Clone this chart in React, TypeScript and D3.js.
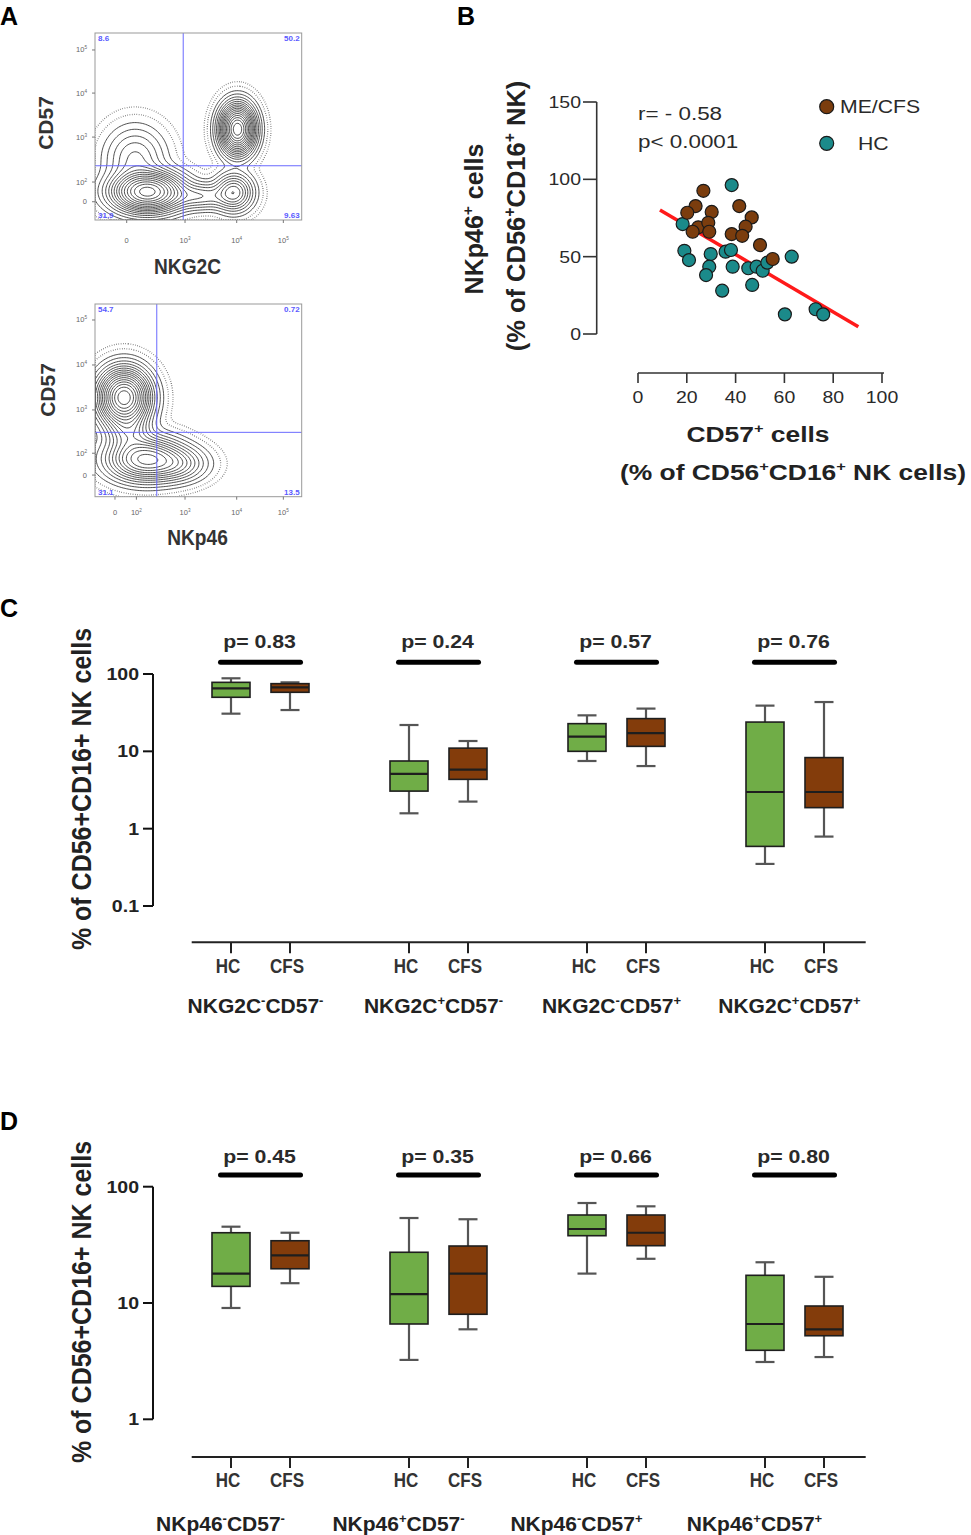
import { useRef, useEffect } from "react";
import * as d3 from "d3";

type Part = [string, boolean]; // text, superscript
type Blob = { cx: number; cy: number; sx: number; sy: number; w: number };
type Tick = { pos: number; label: Part[] };

// ---------- Panel A: flow cytometry contour plots (channel units 0-1024) ----------
const nkg2cBlobs: Blob[] = [
  { cx: 256, cy: 150, sx: 92, sy: 58, w: 1.0 },
  { cx: 195, cy: 330, sx: 80, sy: 95, w: 0.13 },
  { cx: 702, cy: 493, sx: 45, sy: 71, w: 1.2 },
  { cx: 684, cy: 148, sx: 50, sy: 55, w: 0.3 },
  { cx: 520, cy: 126, sx: 90, sy: 40, w: 0.15 },
];
const nkp46Blobs: Blob[] = [
  { cx: 140, cy: 523, sx: 66, sy: 78, w: 1.0 },
  { cx: 245, cy: 195, sx: 99, sy: 61, w: 0.5 },
  { cx: 400, cy: 170, sx: 80, sy: 50, w: 0.15 },
  { cx: 165, cy: 340, sx: 60, sy: 60, w: 0.16 },
];
const tenTo = (e: string): Part[] => [["10", false], [e, true]];
const nkg2cXTicks: Tick[] = [
  { pos: 157, label: [["0", false]] },
  { pos: 446, label: tenTo("3") },
  { pos: 702, label: tenTo("4") },
  { pos: 933, label: tenTo("5") },
];
const nkg2cYTicks: Tick[] = [
  { pos: 100, label: [["0", false]] },
  { pos: 208, label: tenTo("2") },
  { pos: 454, label: tenTo("3") },
  { pos: 695, label: tenTo("4") },
  { pos: 931, label: tenTo("5") },
];
const nkp46XTicks: Tick[] = [
  { pos: 99, label: [["0", false]] },
  { pos: 205, label: tenTo("2") },
  { pos: 446, label: tenTo("3") },
  { pos: 702, label: tenTo("4") },
  { pos: 933, label: tenTo("5") },
];
const nkp46YTicks: Tick[] = [
  { pos: 115, label: [["0", false]] },
  { pos: 231, label: tenTo("2") },
  { pos: 461, label: tenTo("3") },
  { pos: 700, label: tenTo("4") },
  { pos: 939, label: tenTo("5") },
];
const nkg2cQuad = ["8.6", "50.2", "31.9", "9.63"];
const nkp46Quad = ["54.7", "0.72", "31.1", "13.5"];
const contourLevels = [0.012, 0.025, 0.045, 0.07, 0.1, 0.135, 0.175, 0.22, 0.27, 0.33, 0.4, 0.48, 0.57, 0.67, 0.78, 0.9];
const haloLevels = [0.0012, 0.004];

// ---------- Panel B: scatter ----------
const meCfsPoints: [number, number][] = [
  [26.8, 92.6], [23.6, 82.7], [20.2, 78.4], [30.2, 78.9], [41.5, 82.7],
  [46.6, 75.4], [24.7, 69.0], [28.8, 71.9], [22.4, 66.1], [29.2, 66.1],
  [44.1, 69.4], [38.4, 64.6], [42.7, 63.5], [50.0, 57.5], [55.2, 48.5],
];
const hcPoints: [number, number][] = [
  [38.4, 96.3], [18.3, 71.1], [19.0, 53.8], [20.9, 47.8], [29.8, 51.7],
  [35.9, 53.2], [38.1, 54.3], [29.2, 43.5], [27.9, 38.1], [38.8, 43.5],
  [45.2, 42.5], [48.6, 43.5], [51.1, 40.9], [53.0, 46.1], [63.0, 50.0],
  [46.8, 31.7], [34.5, 28.0], [60.2, 12.7], [72.8, 16.0], [75.9, 12.7],
];
const fitEnds: [number, number][] = [[9, 80.2], [90.3, 4.7]];
const scatterXTicks = [0, 20, 40, 60, 80, 100];
const scatterYTicks = [0, 50, 100, 150];

// ---------- Panels C, D: box plots [min, q1, median, q3, max] ----------
const subGroups = ["HC", "CFS"];
const nkg2cGroups: Part[][] = [
  [["NKG2C", false], ["-", true], ["CD57", false], ["-", true]],
  [["NKG2C", false], ["+", true], ["CD57", false], ["-", true]],
  [["NKG2C", false], ["-", true], ["CD57", false], ["+", true]],
  [["NKG2C", false], ["+", true], ["CD57", false], ["+", true]],
];
const nkg2cHC = [[30.7, 50, 65, 78, 88], [1.58, 3.06, 5.1, 7.5, 21.9], [7.5, 10, 15.5, 22.8, 29.2], [0.35, 0.59, 2.98, 23.9, 39]];
const nkg2cCFS = [[34.2, 58, 67, 75, 78], [2.24, 4.34, 5.8, 11, 13.6], [6.45, 11.6, 17.2, 26.5, 35.7], [0.79, 1.87, 2.98, 8.3, 43.4]];
const nkg2cP = ["0.83", "0.24", "0.57", "0.76"];
const boxTicksC = [0.1, 1, 10, 100];

const nkp46Groups: Part[][] = [
  [["NKp46", false], ["-", true], ["CD57", false], ["-", true]],
  [["NKp46", false], ["+", true], ["CD57", false], ["-", true]],
  [["NKp46", false], ["-", true], ["CD57", false], ["+", true]],
  [["NKp46", false], ["+", true], ["CD57", false], ["+", true]],
];
const nkp46HC = [[9.06, 13.9, 17.9, 40.2, 45.3], [3.24, 6.6, 11.9, 27.3, 53.8], [17.9, 37.9, 43.3, 57.1, 72.4], [3.11, 3.92, 6.6, 17.3, 22.4]];
const nkp46CFS = [[14.8, 19.7, 25.7, 34.3, 40.2], [5.94, 8.0, 17.9, 30.9, 52.5], [24.0, 31.1, 40.2, 57.1, 67.8], [3.43, 5.23, 5.94, 9.42, 16.8]];
const nkp46P = ["0.45", "0.35", "0.66", "0.80"];
const boxTicksD = [1, 10, 100];

const GREEN = "#70ad47";
const BROWN = "#833c0b";
const TEAL = "#1b8a8a";
const DOT_BROWN = "#7b3d0e";

function label(
  parent: any,
  x: number,
  y: number,
  content: string | Part[],
  o: { size: number; weight?: string; fill?: string; anchor?: string; sx?: number; rotate?: number }
) {
  const parts: Part[] = typeof content === "string" ? [[content, false]] : content;
  const g = parent
    .append("g")
    .attr("transform", `translate(${x},${y}) scale(${o.sx ?? 1},1)` + (o.rotate ? ` rotate(${o.rotate})` : ""));
  const t = g
    .append("text")
    .attr("font-size", o.size)
    .attr("font-weight", o.weight ?? "normal")
    .attr("fill", o.fill ?? "#222")
    .attr("text-anchor", o.anchor ?? "start");
  const lift = o.size * 0.4;
  let raised = false;
  parts.forEach(([s, sup]) => {
    const ts = t.append("tspan").text(s);
    if (sup) {
      ts.attr("font-size", o.size * 0.62);
      if (!raised) {
        ts.attr("dy", -lift);
        raised = true;
      }
    } else if (raised) {
      ts.attr("dy", lift);
      raised = false;
    }
  });
  return t;
}

function drawFlow(svg: any, cfg: any) {
  const { left, top, width, height, blobs } = cfg;
  const x = d3.scaleLinear().domain([0, 1024]).range([left, left + width]);
  const y = d3.scaleLinear().domain([0, 1024]).range([top + height, top]);

  const step = 8;
  const n = 1024 / step + 1;
  const values: number[] = [];
  for (let j = 0; j < n; j++) {
    for (let i = 0; i < n; i++) {
      const cx = i * step;
      const cy = j * step;
      let v = 0;
      for (const b of blobs as Blob[]) {
        v += b.w * Math.exp(-((cx - b.cx) ** 2 / (2 * b.sx ** 2) + (cy - b.cy) ** 2 / (2 * b.sy ** 2)));
      }
      values.push(v);
    }
  }
  const max = d3.max(values) ?? 1;
  const proj = d3.geoTransform({
    point(px: number, py: number) {
      (this as any).stream.point(x(px * step), y(py * step));
    },
  });
  const path = d3.geoPath(proj);

  svg
    .append("clipPath")
    .attr("id", cfg.id)
    .append("rect")
    .attr("x", left)
    .attr("y", top)
    .attr("width", width)
    .attr("height", height);
  const g = svg.append("g").attr("clip-path", `url(#${cfg.id})`);

  g.selectAll("path.halo")
    .data(d3.contours().size([n, n]).thresholds(haloLevels.map((l) => l * max))(values))
    .join("path")
    .attr("class", "halo")
    .attr("d", path as any)
    .attr("fill", "none")
    .attr("stroke", "#555")
    .attr("stroke-width", 1.3)
    .attr("stroke-dasharray", "0.6 1.7");

  g.selectAll("path.level")
    .data(d3.contours().size([n, n]).thresholds(contourLevels.map((l) => l * max))(values))
    .join("path")
    .attr("class", "level")
    .attr("d", path as any)
    .attr("fill", "none")
    .attr("stroke", "#222")
    .attr("stroke-width", 0.8);

  // gates
  svg.append("line")
    .attr("x1", x(cfg.gateX)).attr("x2", x(cfg.gateX))
    .attr("y1", top).attr("y2", top + height)
    .attr("stroke", "#6a6aff").attr("stroke-width", 1);
  svg.append("line")
    .attr("x1", left).attr("x2", left + width)
    .attr("y1", y(cfg.gateY)).attr("y2", y(cfg.gateY))
    .attr("stroke", "#6a6aff").attr("stroke-width", 1);

  svg.append("rect")
    .attr("x", left).attr("y", top).attr("width", width).attr("height", height)
    .attr("fill", "none").attr("stroke", "#999").attr("stroke-width", 1);

  const q = cfg.quad as string[];
  const qs = { size: 8, weight: "bold", fill: "#5a5aff" };
  label(svg, left + 3, top + 8, q[0], qs);
  label(svg, left + width - 2, top + 8, q[1], { ...qs, anchor: "end" });
  label(svg, left + 3, top + height - 2, q[2], qs);
  label(svg, left + width - 2, top + height - 2, q[3], { ...qs, anchor: "end" });

  (cfg.xTicks as Tick[]).forEach((t) => {
    svg.append("line")
      .attr("x1", x(t.pos)).attr("x2", x(t.pos))
      .attr("y1", top + height).attr("y2", top + height + 3)
      .attr("stroke", "#777");
    label(svg, x(t.pos), top + height + cfg.xLabelOff, t.label, { size: 7.5, fill: "#666", anchor: "middle" });
  });
  (cfg.yTicks as Tick[]).forEach((t) => {
    svg.append("line")
      .attr("x1", left - 3).attr("x2", left)
      .attr("y1", y(t.pos)).attr("y2", y(t.pos))
      .attr("stroke", "#777");
    label(svg, left - 8, y(t.pos) + 2.5, t.label, { size: 7.5, fill: "#666", anchor: "end" });
  });

  label(svg, cfg.yTitleX, cfg.yTitleY, "CD57", { size: 21, weight: "bold", fill: "#333", anchor: "middle", rotate: -90 });
  label(svg, cfg.xTitleX, cfg.xTitleY, cfg.xTitle, { size: 22, weight: "bold", fill: "#333", anchor: "middle", sx: 0.87 });
}

function drawBoxes(svg: any, cfg: any) {
  const y = cfg.y;
  const gx = d3.scalePoint<number>().domain(d3.range(4)).range([260.5, 794.5]);
  const sub = d3.scalePoint<string>().domain(subGroups).range([-29.5, 29.5]);
  const ticks: number[] = cfg.yTicks;
  const axisX = 153;

  // y axis
  svg.append("line")
    .attr("x1", axisX).attr("x2", axisX)
    .attr("y1", y(d3.max(ticks))).attr("y2", y(d3.min(ticks)))
    .attr("stroke", "#111").attr("stroke-width", 2);
  ticks.forEach((t) => {
    svg.append("line")
      .attr("x1", axisX - 10).attr("x2", axisX)
      .attr("y1", y(t)).attr("y2", y(t))
      .attr("stroke", "#111").attr("stroke-width", 2);
    label(svg, axisX - 14, y(t) + 6, String(t), { size: 17, weight: "bold", fill: "#222", anchor: "end", sx: 1.15 });
  });
  label(svg, 91, cfg.titleY, "% of CD56+CD16+ NK cells", {
    size: 25, weight: "bold", fill: "#222", anchor: "middle", rotate: -90, sx: 1.12,
  });

  // x axis
  svg.append("line")
    .attr("x1", 191.7).attr("x2", 865.7)
    .attr("y1", cfg.axisY).attr("y2", cfg.axisY)
    .attr("stroke", "#222").attr("stroke-width", 2);

  for (let i = 0; i < 4; i++) {
    const c = gx(i) ?? 0;
    [cfg.hc[i], cfg.cfs[i]].forEach((s: number[], k: number) => {
      const cx = c + (sub(subGroups[k]) ?? 0);
      const [mn, q1, md, q3, mx] = s;
      const wg = svg.append("g").attr("stroke", "#555").attr("stroke-width", 2.2);
      wg.append("line").attr("x1", cx).attr("x2", cx).attr("y1", y(mx)).attr("y2", y(q3));
      wg.append("line").attr("x1", cx).attr("x2", cx).attr("y1", y(q1)).attr("y2", y(mn));
      wg.append("line").attr("x1", cx - 9.5).attr("x2", cx + 9.5).attr("y1", y(mx)).attr("y2", y(mx));
      wg.append("line").attr("x1", cx - 9.5).attr("x2", cx + 9.5).attr("y1", y(mn)).attr("y2", y(mn));
      svg.append("rect")
        .attr("x", cx - 19).attr("width", 38)
        .attr("y", y(q3)).attr("height", y(q1) - y(q3))
        .attr("fill", k === 0 ? GREEN : BROWN)
        .attr("stroke", "#1e1e1e").attr("stroke-width", 1.6);
      svg.append("line")
        .attr("x1", cx - 19).attr("x2", cx + 19)
        .attr("y1", y(md)).attr("y2", y(md))
        .attr("stroke", "#1e1e1e").attr("stroke-width", 2.2);
      svg.append("line")
        .attr("x1", cx).attr("x2", cx)
        .attr("y1", cfg.axisY).attr("y2", cfg.axisY + 11)
        .attr("stroke", "#222").attr("stroke-width", 2);
      label(svg, cx - 3, cfg.subLabelY, subGroups[k], { size: 20, weight: "bold", fill: "#333", anchor: "middle", sx: 0.85 });
    });
    svg.append("line")
      .attr("x1", c - 40).attr("x2", c + 40)
      .attr("y1", cfg.barY).attr("y2", cfg.barY)
      .attr("stroke", "#000").attr("stroke-width", 5).attr("stroke-linecap", "round");
    label(svg, c - 1, cfg.pTextY, `p= ${cfg.pvals[i]}`, { size: 19, weight: "bold", fill: "#2a2a2a", anchor: "middle", sx: 1.12 });
    label(svg, c + cfg.groupShift, cfg.groupLabelY, cfg.groupLabels[i], { size: 21, weight: "bold", fill: "#222", anchor: "middle" });
  }
}

export default function App() {
  const ref = useRef<SVGSVGElement | null>(null);

  useEffect(() => {
    if (!ref.current) return;
    const svg = d3.select(ref.current);
    svg.selectAll("*").remove();
    svg.attr("font-family", "'Liberation Sans', Arial, Helvetica, sans-serif");

    // panel letters
    [["A", 0, 25], ["B", 457, 25], ["C", 0, 617], ["D", 0, 1130]].forEach(([t, x, yy]) =>
      label(svg, x as number, yy as number, t as string, { size: 25, weight: "bold", fill: "#000" })
    );

    // ---- A
    drawFlow(svg, {
      id: "clipA1", left: 95, top: 33, width: 206.7, height: 187, blobs: nkg2cBlobs,
      xTicks: nkg2cXTicks, yTicks: nkg2cYTicks, gateX: 437, gateY: 297, quad: nkg2cQuad,
      xLabelOff: 23, xTitle: "NKG2C", xTitleX: 187.5, xTitleY: 274, yTitleX: 53, yTitleY: 123,
    });
    drawFlow(svg, {
      id: "clipA2", left: 95, top: 304, width: 206.7, height: 192.7, blobs: nkp46Blobs,
      xTicks: nkp46XTicks, yTicks: nkp46YTicks, gateX: 306, gateY: 342, quad: nkp46Quad,
      xLabelOff: 18, xTitle: "NKp46", xTitleX: 197.5, xTitleY: 545, yTitleX: 54.5, yTitleY: 390,
    });

    // ---- B
    const bx = d3.scaleLinear().domain([0, 100]).range([638, 882]);
    const by = d3.scaleLinear().domain([0, 150]).range([334, 102]);
    const SX = 1.18;
    svg.append("line")
      .attr("x1", 596.7).attr("x2", 596.7).attr("y1", by(150)).attr("y2", by(0))
      .attr("stroke", "#333").attr("stroke-width", 1.6);
    scatterYTicks.forEach((t) => {
      svg.append("line").attr("x1", 583).attr("x2", 596.7).attr("y1", by(t)).attr("y2", by(t))
        .attr("stroke", "#333").attr("stroke-width", 1.6);
      label(svg, 581, by(t) + 6, String(t), { size: 16.5, fill: "#2a2a2a", anchor: "end", sx: SX });
    });
    svg.append("line")
      .attr("x1", bx(0)).attr("x2", bx(100) + 2).attr("y1", 373).attr("y2", 373)
      .attr("stroke", "#333").attr("stroke-width", 1.6);
    scatterXTicks.forEach((t) => {
      svg.append("line").attr("x1", bx(t)).attr("x2", bx(t)).attr("y1", 373).attr("y2", 383)
        .attr("stroke", "#333").attr("stroke-width", 1.6);
      label(svg, bx(t), 403, String(t), { size: 16.5, fill: "#2a2a2a", anchor: "middle", sx: SX });
    });
    svg.append("path")
      .datum(fitEnds)
      .attr("d", d3.line<[number, number]>().x((d) => bx(d[0])).y((d) => by(d[1])))
      .attr("stroke", "#ff1a1a").attr("stroke-width", 3.5).attr("fill", "none");
    svg.append("g").selectAll("circle")
      .data(hcPoints).join("circle")
      .attr("cx", (d) => bx(d[0])).attr("cy", (d) => by(d[1])).attr("r", 6.5)
      .attr("fill", TEAL).attr("stroke", "#1a1a1a").attr("stroke-width", 1.2);
    svg.append("g").selectAll("circle")
      .data(meCfsPoints).join("circle")
      .attr("cx", (d) => bx(d[0])).attr("cy", (d) => by(d[1])).attr("r", 6.5)
      .attr("fill", DOT_BROWN).attr("stroke", "#1a1a1a").attr("stroke-width", 1.2);

    label(svg, 638, 120, "r= - 0.58", { size: 19, fill: "#2a2a2a", sx: SX });
    label(svg, 638, 148, "p< 0.0001", { size: 19, fill: "#2a2a2a", sx: SX });
    svg.append("circle").attr("cx", 826.7).attr("cy", 106.7).attr("r", 7)
      .attr("fill", DOT_BROWN).attr("stroke", "#1a1a1a").attr("stroke-width", 1.2);
    svg.append("circle").attr("cx", 826.7).attr("cy", 143.3).attr("r", 7)
      .attr("fill", TEAL).attr("stroke", "#1a1a1a").attr("stroke-width", 1.2);
    label(svg, 840, 113, "ME/CFS", { size: 18, fill: "#2a2a2a", sx: SX });
    label(svg, 858, 150, "HC", { size: 18, fill: "#2a2a2a", sx: SX });

    label(svg, 483, 219, [["NKp46", false], ["+", true], [" cells", false]], {
      size: 25, weight: "bold", fill: "#222", anchor: "middle", rotate: -90,
    });
    label(svg, 525, 216, [["(% of CD56", false], ["+", true], ["CD16", false], ["+", true], [" NK)", false]], {
      size: 25.5, weight: "bold", fill: "#222", anchor: "middle", rotate: -90,
    });
    label(svg, 758, 442, [["CD57", false], ["+", true], [" cells", false]], {
      size: 22, weight: "bold", fill: "#222", anchor: "middle", sx: 1.2,
    });
    label(svg, 793, 480, [["(% of CD56", false], ["+", true], ["CD16", false], ["+", true], [" NK cells)", false]], {
      size: 22, weight: "bold", fill: "#222", anchor: "middle", sx: 1.2,
    });

    // ---- C
    drawBoxes(svg, {
      y: d3.scaleLog().domain([0.1, 100]).range([906, 674]),
      yTicks: boxTicksC, axisY: 942.3, hc: nkg2cHC, cfs: nkg2cCFS, pvals: nkg2cP,
      pTextY: 648, barY: 662.3, groupLabels: nkg2cGroups, groupLabelY: 1013, groupShift: -5,
      subLabelY: 973, titleY: 789,
    });

    // ---- D
    drawBoxes(svg, {
      y: d3.scaleLog().domain([1, 100]).range([1419.3, 1186.7]),
      yTicks: boxTicksD, axisY: 1457, hc: nkp46HC, cfs: nkp46CFS, pvals: nkp46P,
      pTextY: 1162.7, barY: 1175, groupLabels: nkp46Groups, groupLabelY: 1531, groupShift: -40,
      subLabelY: 1487, titleY: 1302,
    });
  }, []);

  return (
    <svg
      ref={ref}
      width={971}
      height={1535}
      style={{ position: "absolute", left: 0, top: 0, background: "#fff" }}
    />
  );
}
